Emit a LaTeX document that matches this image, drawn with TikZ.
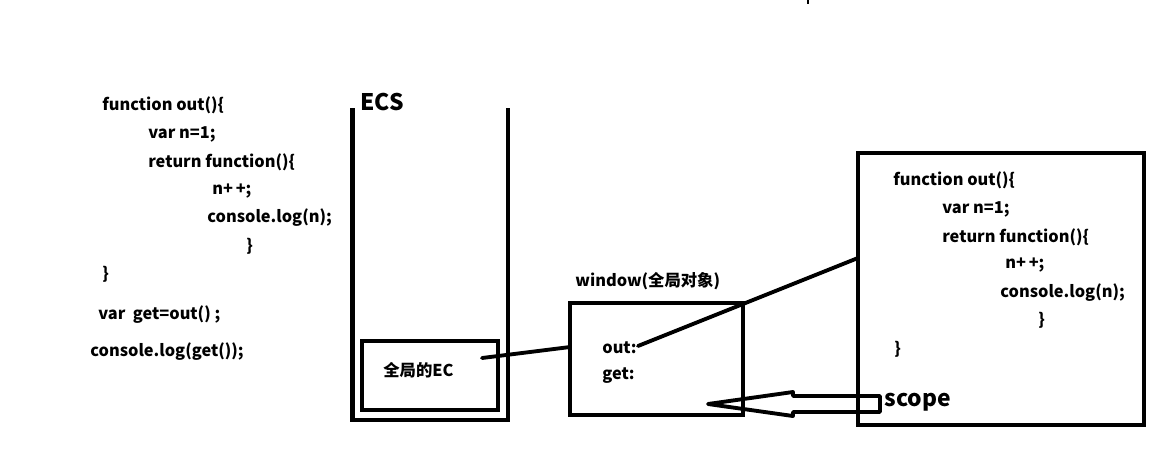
\documentclass[tikz,border=0pt]{standalone}
\usepackage{fontspec}
\setmainfont{Noto Sans CJK SC}
\usepackage{tikz}

\begin{document}
\begin{tikzpicture}[x=0.02cm,y=-0.02cm]
\tikzset{
  code/.style={anchor=west,inner sep=0pt,font=\bfseries\fontsize{9.3}{10}\selectfont},
  big/.style={anchor=west,inner sep=0pt,font=\bfseries\fontsize{13}{14}\selectfont},
  box/.style={draw,line width=2.4pt,inner sep=0pt},
  link/.style={line width=2.2pt,line cap=round}
}
\useasboundingbox (0,0) rectangle (1156,451);
\fill (807,0) rectangle (809,4);
% code on the left
\node[code] (l1) at (102,105) {function out()\{};
\node[code] (l2) at (148,134) {var n=1;};
\node[code] (l3) at (148,162) {return function()\{};
\node[code] (l4) at (212,191) {n+\,+;};
\node[code] (l5) at (207,218) {console.log(n);};
\node[code] (l6) at (246,246) {\}};
\node[code] (l7) at (102,274) {\}};
\node[code] (l8) at (98,315) {var\ \ get=out()\ ;};
\node[code] (l9) at (90,352) {console.log(get());};
% the stack
\node[big] (ecs) at (360,102) {ECS};
\draw[line width=2.4pt] (352.5,108) -- (352.5,420) -- (508,420) -- (508,108);
\node[box,minimum width=2.72cm,minimum height=1.38cm] (ec) at (430,375.5) {};
\node[code] (ectxt) at (383,370) {全局的EC};
% window object
\node[code] (wintxt) at (575,281) {window(全局对象)};
\node[box,minimum width=3.46cm,minimum height=2.24cm] (win) at (656.5,359) {};
\node[code] (outk) at (602,348) {out:};
\node[code] (getk) at (602,376) {get:};
% the scope
\node[box,minimum width=5.72cm,minimum height=5.44cm] (sc) at (1001,289) {};
\node[code] (r1) at (893,180) {function out()\{};
\node[code] (r2) at (942,209) {var n=1;};
\node[code] (r3) at (942,237) {return function()\{};
\node[code] (r4) at (1005,265) {n+\,+;};
\node[code] (r5) at (1000,293) {console.log(n);};
\node[code] (r6) at (1038,320) {\}};
\node[code] (r7) at (894,349) {\}};
\node[big] (sctxt) at (884,402) {scope};
% links
\coordinate (ecin) at (482,358);
\coordinate (winin) at (570,347);
\coordinate (outdot) at (638,346);
\coordinate (scin) at (858,258);
\draw[link] (ecin) -- (winin);
\draw[link] (outdot) -- (scin);
\draw[line width=2.2pt,line join=round] (880,396) -- (793,396) -- (793,392) -- (708,404)
  -- (793,416) -- (793,412) -- (880,412) -- cycle;
\end{tikzpicture}
\end{document}
